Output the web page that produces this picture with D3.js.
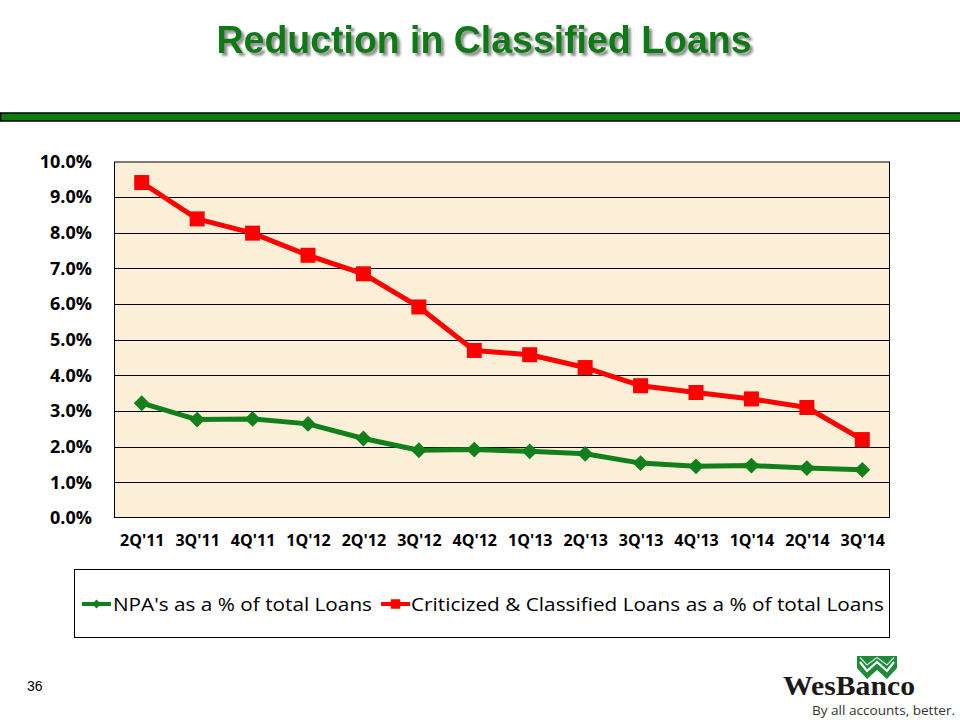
<!DOCTYPE html>
<html>
<head>
<meta charset="utf-8">
<script src="https://cdn.jsdelivr.net/npm/d3@7"></script>
<style>
  html, body { margin: 0; padding: 0; background: #fff; }
  svg { display: block; }
</style>
</head>
<body>
<svg id="chart" width="960" height="720"></svg>
<script>
// Chart data
const quarters = ["2Q'11", "3Q'11", "4Q'11", "1Q'12", "2Q'12", "3Q'12", "4Q'12",
  "1Q'13", "2Q'13", "3Q'13", "4Q'13", "1Q'14", "2Q'14", "3Q'14"];
const npaPct = [3.22, 2.76, 2.78, 2.64, 2.23, 1.90, 1.92, 1.87, 1.80, 1.54, 1.45, 1.47, 1.40, 1.35];
const criticizedPct = [9.41, 8.39, 7.99, 7.37, 6.85, 5.92, 4.70, 4.58, 4.22, 3.71, 3.52, 3.34, 3.10, 2.20];
const yTicks = [0, 1, 2, 3, 4, 5, 6, 7, 8, 9, 10];
const seriesNames = ["NPA's as a % of total Loans", "Criticized & Classified Loans as a % of total Loans"];

const green = '#12801a';
const red = '#ff0000';

const svg = d3.select('#chart');

// Title shadow filter
const defs = svg.append('defs');
defs.append('filter')
  .attr('id', 'shadow')
  .attr('x', '-5%').attr('y', '-20%')
  .attr('width', '110%').attr('height', '150%')
  .append('feDropShadow')
  .attr('dx', 3).attr('dy', 3)
  .attr('stdDeviation', 1.2)
  .attr('flood-color', '#777')
  .attr('flood-opacity', 0.8);

// Title + rule
svg.append('text')
  .attr('x', 484).attr('y', 53)
  .attr('text-anchor', 'middle')
  .attr('font-family', 'Liberation Sans, Arial, sans-serif')
  .attr('font-weight', 'bold')
  .attr('font-size', 38)
  .attr('textLength', 535).attr('lengthAdjust', 'spacingAndGlyphs')
  .attr('fill', '#0f7a14')
  .attr('filter', 'url(#shadow)')
  .text('Reduction in Classified Loans');

svg.append('rect')
  .attr('x', 0.5).attr('y', 113)
  .attr('width', 962).attr('height', 8)
  .attr('fill', '#0b7d0b')
  .attr('stroke', '#000')
  .attr('stroke-width', 1.5);

// Plot area
const plot = { left: 114, right: 890, top: 161.5, bottom: 518 };

const x = d3.scalePoint()
  .domain(quarters)
  .range([plot.left, plot.right])
  .padding(0.5);

const y = d3.scaleLinear()
  .domain([0, 10])
  .range([plot.bottom, plot.top]);

svg.append('rect')
  .attr('x', plot.left).attr('y', plot.top)
  .attr('width', plot.right - plot.left)
  .attr('height', plot.bottom - plot.top)
  .attr('fill', '#fbefd8');

// Gridlines
svg.append('g')
  .selectAll('line')
  .data(yTicks.slice(1, -1))
  .join('line')
  .attr('x1', plot.left).attr('x2', plot.right)
  .attr('y1', (d) => Math.round(y(d)) + 0.5)
  .attr('y2', (d) => Math.round(y(d)) + 0.5)
  .attr('stroke', '#000')
  .attr('stroke-width', 1);

svg.append('rect')
  .attr('x', plot.left + 0.5).attr('y', plot.top + 0.5)
  .attr('width', plot.right - plot.left - 1)
  .attr('height', plot.bottom - plot.top - 1)
  .attr('fill', 'none')
  .attr('stroke', '#000')
  .attr('stroke-width', 1);

// Axes
const yAxis = svg.append('g')
  .attr('transform', `translate(${plot.left - 22},0)`)
  .call(d3.axisLeft(y).tickValues(yTicks).tickSize(0).tickPadding(0)
    .tickFormat((d) => d.toFixed(1) + '%'));
yAxis.select('.domain').remove();
yAxis.selectAll('text')
  .attr('font-family', 'Open Sans, sans-serif')
  .attr('font-weight', 'bold')
  .attr('font-size', 18)
  .attr('fill', '#000');

const xAxis = svg.append('g')
  .attr('transform', `translate(0,${plot.bottom + 17})`)
  .call(d3.axisBottom(x).tickSize(0).tickPadding(0));
xAxis.select('.domain').remove();
xAxis.selectAll('text')
  .attr('font-family', 'Open Sans, sans-serif')
  .attr('font-weight', 'bold')
  .attr('font-size', 16)
  .attr('fill', '#000');

// Lines
const line = d3.line()
  .x((d, i) => x(quarters[i]))
  .y((d) => y(d));

svg.append('path')
  .datum(npaPct)
  .attr('fill', 'none')
  .attr('stroke', green)
  .attr('stroke-width', 5)
  .attr('stroke-linejoin', 'round')
  .attr('d', line);

svg.append('path')
  .datum(criticizedPct)
  .attr('fill', 'none')
  .attr('stroke', red)
  .attr('stroke-width', 5)
  .attr('stroke-linejoin', 'round')
  .attr('d', line);

// Markers
const diamond = d3.symbol().type(d3.symbolDiamond2).size(160);
const square = d3.symbol().type(d3.symbolSquare).size(225);

svg.append('g')
  .selectAll('path')
  .data(npaPct)
  .join('path')
  .attr('transform', (d, i) => `translate(${x(quarters[i])},${y(d)})`)
  .attr('d', diamond)
  .attr('fill', green);

svg.append('g')
  .selectAll('path')
  .data(criticizedPct)
  .join('path')
  .attr('transform', (d, i) => `translate(${x(quarters[i])},${y(d)})`)
  .attr('d', square)
  .attr('fill', red);

// Legend
svg.append('rect')
  .attr('x', 74.5).attr('y', 569.5)
  .attr('width', 815).attr('height', 68)
  .attr('fill', '#fff')
  .attr('stroke', '#000')
  .attr('stroke-width', 1);

const legendItems = [
  { name: seriesNames[0], color: green, mark: d3.symbol().type(d3.symbolDiamond2).size(50), x0: 82, tx: 113, tw: 259 },
  { name: seriesNames[1], color: red, mark: d3.symbol().type(d3.symbolSquare).size(90), x0: 381, tx: 411, tw: 473 },
];
const legend = svg.append('g')
  .selectAll('g')
  .data(legendItems)
  .join('g');
legend.append('line')
  .attr('x1', (d) => d.x0).attr('x2', (d) => d.x0 + 29)
  .attr('y1', 604).attr('y2', 604)
  .attr('stroke', (d) => d.color)
  .attr('stroke-width', 4);
legend.append('path')
  .attr('transform', (d) => `translate(${d.x0 + 14.5},604)`)
  .attr('d', (d) => d.mark())
  .attr('fill', (d) => d.color);
legend.append('text')
  .attr('x', (d) => d.tx).attr('y', 611)
  .attr('font-family', 'Open Sans, sans-serif')
  .attr('font-size', 19)
  .attr('fill', '#000')
  .attr('textLength', (d) => d.tw)
  .attr('lengthAdjust', 'spacingAndGlyphs')
  .text((d) => d.name);

// Page number
svg.append('text')
  .attr('x', 27).attr('y', 691)
  .attr('font-family', 'Liberation Sans, Arial, sans-serif')
  .attr('font-size', 14)
  .attr('fill', '#000')
  .text('36');

// Logo
const logo = svg.append('g');
logo.append('path')
  .attr('d', 'M857,656 L897,656 L897,668 L887,679 L877,670 L867,679 L857,668 Z')
  .attr('fill', '#1f8a3a');
logo.append('path')
  .attr('d', 'M860,662 L867,671 L877,662 L887,671 L894,662')
  .attr('fill', 'none')
  .attr('stroke', '#fff')
  .attr('stroke-width', 2.2);
logo.append('path')
  .attr('d', 'M860,657.5 L867,665 L877,657.5 L887,665 L894,657.5')
  .attr('fill', 'none')
  .attr('stroke', '#cfe8d2')
  .attr('stroke-width', 1.2);
logo.append('text')
  .attr('x', 783).attr('y', 695)
  .attr('font-family', 'Liberation Serif, Times New Roman, serif')
  .attr('font-weight', 'bold')
  .attr('font-size', 28)
  .attr('textLength', 132).attr('lengthAdjust', 'spacingAndGlyphs')
  .attr('fill', '#1a1a1a')
  .text('WesBanco');
logo.append('text')
  .attr('x', 812).attr('y', 715)
  .attr('font-family', 'Open Sans, sans-serif')
  .attr('font-size', 13.5)
  .attr('textLength', 143).attr('lengthAdjust', 'spacingAndGlyphs')
  .attr('fill', '#333')
  .text('By all accounts, better.');
</script>
</body>
</html>
